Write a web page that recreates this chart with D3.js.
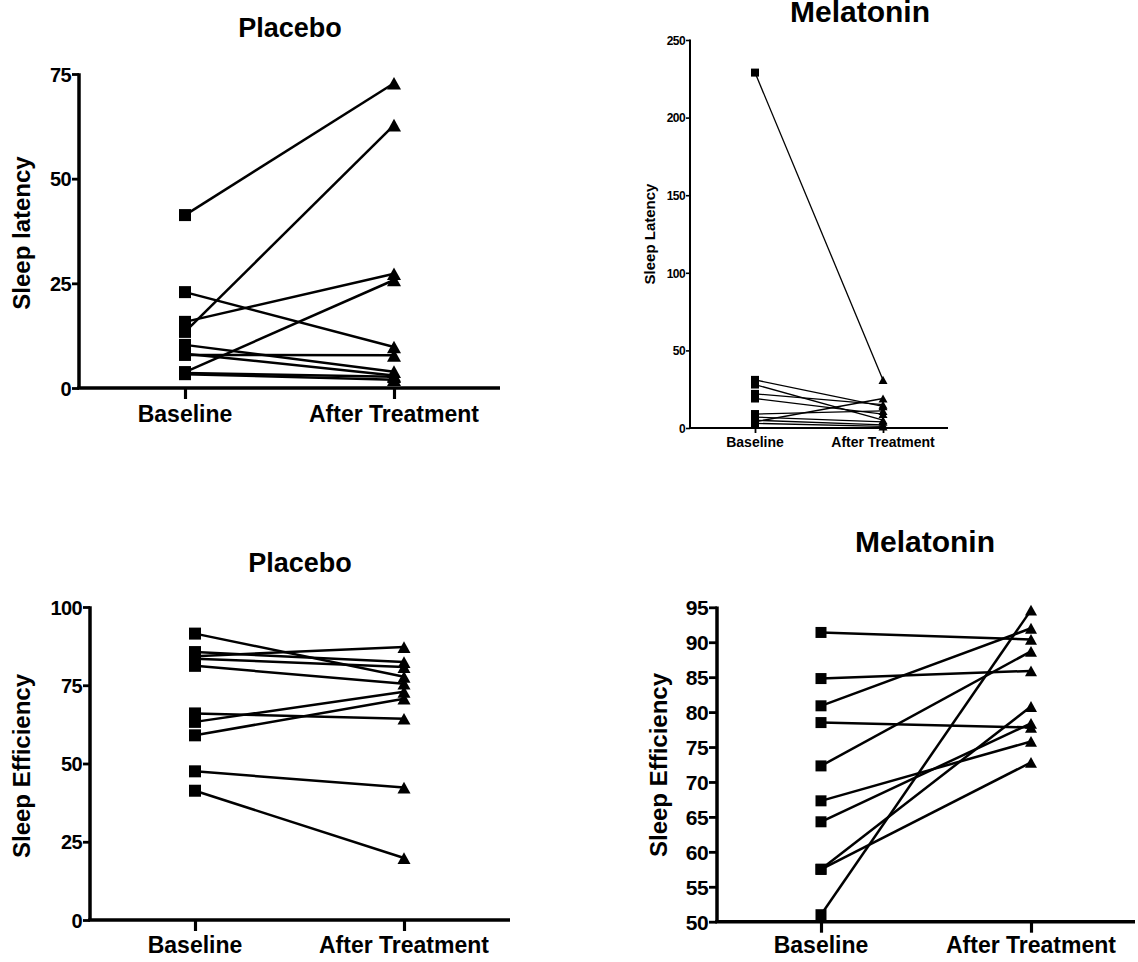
<!DOCTYPE html>
<html>
<head>
<meta charset="utf-8">
<script src="https://cdn.jsdelivr.net/npm/d3@7"></script>
<style>
  body { margin: 0; background: #fff; }
  text { font-family: "Liberation Sans", Arial, sans-serif; font-weight: bold; fill: #000; }
</style>
</head>
<body>
<script>
var w = 1138;
var h = 962;

//Data
var groups = ["Baseline", "After Treatment"];

//Placebo, sleep latency (one entry per subject)
var placeboLatencyBase  = [41.3, 13.4, 15.8, 3.8, 22.9, 7.9, 10.3, 8.2, 3.6, 3.3];
var placeboLatencyAfter = [72.8, 62.8, 27.3, 25.8, 9.8, 7.8, 3.9, 3.0, 2.7, 2.0];

//Melatonin, sleep latency
var melatoninLatencyBase  = [229, 31, 28, 22, 19, 9, 7, 4, 5, 3];
var melatoninLatencyAfter = [31, 14, 5, 15, 9, 11, 4, 19, 2, 1];

//Placebo, sleep efficiency
var placeboEffBase  = [91.5, 85.6, 84.3, 83.5, 81.2, 66, 63.3, 59, 47.5, 41.3];
var placeboEffAfter = [77.7, 82.4, 87.2, 80.8, 75.5, 64.3, 72.9, 70.7, 42.3, 19.8];

//Melatonin, sleep efficiency
var melatoninEffBase  = [91.4, 84.8, 80.9, 78.5, 72.3, 67.3, 64.3, 57.5, 57.5, 51.0];
var melatoninEffAfter = [90.4, 85.9, 92.0, 77.8, 88.7, 75.8, 78.4, 80.8, 72.8, 94.6];

//Tick values
var placeboLatencyTicks = [0, 25, 50, 75];
var melatoninLatencyTicks = [0, 50, 100, 150, 200, 250];
var placeboEffTicks = [0, 25, 50, 75, 100];
var melatoninEffTicks = [50, 55, 60, 65, 70, 75, 80, 85, 90, 95];

//Create svg
var svg = d3.select("body")
            .append("svg")
            .attr("width", w)
            .attr("height", h);

//Layout for each panel
var panels = [
  { title: "Placebo", titleX: 290, titleY: 37, titleSize: 27,
    ylabel: "Sleep latency", labX: 30, labY: 233, labSize: 24,
    base: placeboLatencyBase, after: placeboLatencyAfter,
    domain: [0, 75], ticks: placeboLatencyTicks,
    axX: 79, axEnd: 500, y0: 388, y1: 74, bx: 185, ax: 394,
    tickFont: 20, xFont: 23, xLabY: 422,
    lineW: 2.5, axisW: 3.5, tickLen: 7, xTickLen: 11, sq: 12, tri: 14 },
  { title: "Melatonin", titleX: 860, titleY: 22, titleSize: 30,
    ylabel: "Sleep Latency", labX: 655, labY: 234, labSize: 15,
    base: melatoninLatencyBase, after: melatoninLatencyAfter,
    domain: [0, 250], ticks: melatoninLatencyTicks,
    axX: 690, axEnd: 948, y0: 428, y1: 40, bx: 755, ax: 883,
    tickFont: 12, xFont: 14, xLabY: 447,
    lineW: 1.3, axisW: 2, tickLen: 4, xTickLen: 5, sq: 8, tri: 9 },
  { title: "Placebo", titleX: 300, titleY: 572, titleSize: 27,
    ylabel: "Sleep Efficiency", labX: 30, labY: 766, labSize: 24,
    base: placeboEffBase, after: placeboEffAfter,
    domain: [0, 100], ticks: placeboEffTicks,
    axX: 90, axEnd: 510, y0: 920, y1: 607, bx: 195, ax: 404,
    tickFont: 20, xFont: 23, xLabY: 953,
    lineW: 2.5, axisW: 3.5, tickLen: 7, xTickLen: 11, sq: 12, tri: 13 },
  { title: "Melatonin", titleX: 925, titleY: 552, titleSize: 30,
    ylabel: "Sleep Efficiency", labX: 667, labY: 765, labSize: 24,
    base: melatoninEffBase, after: melatoninEffAfter,
    domain: [50, 95], ticks: melatoninEffTicks,
    axX: 717, axEnd: 1135, y0: 921.7, y1: 607.3, bx: 821, ax: 1031,
    tickFont: 21, xFont: 23, xLabY: 953,
    lineW: 2.5, axisW: 3.5, tickLen: 8, xTickLen: 11, sq: 11, tri: 12 }
];

panels.forEach(drawPanel);

function drawPanel(p) {
  var g = svg.append("g");
  var x = d3.scalePoint().domain(groups).range([p.bx, p.ax]);
  var y = d3.scaleLinear().domain(p.domain).range([p.y0, p.y1]);

  //Pairs of points, one line per subject
  var pairs = p.base.map(function(b, i) {
    return { b: b, a: p.after[i] };
  });

  g.selectAll("line.pair")
    .data(pairs)
    .enter()
    .append("line")
    .attr("x1", x(groups[0]))
    .attr("y1", function(d) { return y(d.b); })
    .attr("x2", x(groups[1]))
    .attr("y2", function(d) { return y(d.a); })
    .attr("stroke", "#000")
    .attr("stroke-width", p.lineW);

  //Squares at baseline
  g.selectAll("rect.sq")
    .data(p.base)
    .enter()
    .append("rect")
    .attr("x", x(groups[0]) - p.sq / 2)
    .attr("y", function(d) { return y(d) - p.sq / 2; })
    .attr("width", p.sq)
    .attr("height", p.sq)
    .attr("fill", "#000");

  //Triangles after treatment
  g.selectAll("path.tri")
    .data(p.after)
    .enter()
    .append("path")
    .attr("d", function(d) {
      var cx = x(groups[1]), cy = y(d), s = p.tri / 2, hh = p.tri * 0.45;
      return "M" + cx + "," + (cy - hh) + "L" + (cx + s) + "," + (cy + hh) +
             "L" + (cx - s) + "," + (cy + hh) + "Z";
    })
    .attr("fill", "#000");

  //Y axis
  var yAxis = g.append("g")
    .attr("transform", "translate(" + p.axX + ",0)")
    .call(d3.axisLeft(y).tickValues(p.ticks).tickSize(p.tickLen).tickSizeOuter(0).tickPadding(1));
  yAxis.select(".domain").attr("stroke-width", p.axisW)
    .attr("d", "M0," + (p.y1 - p.axisW / 4) + "V" + p.y0);
  yAxis.selectAll(".tick line").attr("stroke-width", p.axisW * 0.8);
  yAxis.selectAll(".tick text")
    .attr("font-size", p.tickFont)
    .attr("letter-spacing", -0.6)
    .attr("dy", "0.35em");

  //X axis
  var xAxis = g.append("g")
    .attr("transform", "translate(0," + p.y0 + ")")
    .call(d3.axisBottom(x).tickSize(p.xTickLen).tickSizeOuter(0).tickFormat(""));
  xAxis.select(".domain").attr("stroke-width", p.axisW)
    .attr("d", "M" + (p.axX - p.axisW / 2) + ",0H" + p.axEnd);
  xAxis.selectAll(".tick line").attr("stroke-width", p.axisW * 0.9);

  //X tick labels
  g.selectAll("text.xlab")
    .data(groups)
    .enter()
    .append("text")
    .attr("x", function(d) { return x(d); })
    .attr("y", p.xLabY)
    .attr("text-anchor", "middle")
    .attr("font-size", p.xFont)
    .text(function(d) { return d; });

  //Title
  g.append("text")
    .attr("x", p.titleX)
    .attr("y", p.titleY)
    .attr("text-anchor", "middle")
    .attr("font-size", p.titleSize)
    .text(p.title);

  //Y label
  g.append("text")
    .attr("transform", "translate(" + p.labX + "," + p.labY + ") rotate(-90)")
    .attr("text-anchor", "middle")
    .attr("font-size", p.labSize)
    .text(p.ylabel);
}
</script>
</body>
</html>
